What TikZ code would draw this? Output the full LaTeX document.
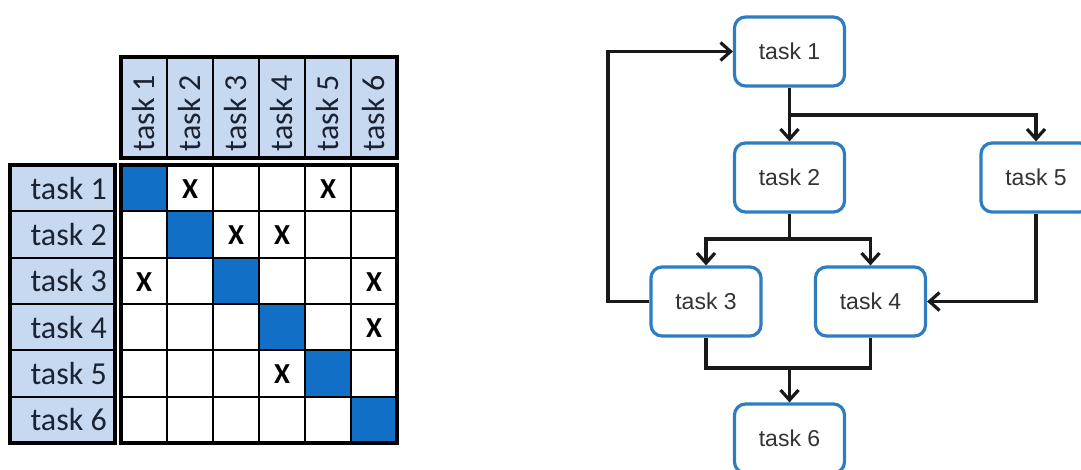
\documentclass[tikz,border=0pt]{standalone}
\usepackage{fontspec}
\setmainfont{Liberation Sans}
\newfontfamily\calfont{Carlito}
\usetikzlibrary{arrows.meta}
\definecolor{hdr}{HTML}{C6D9F1}
\definecolor{diag}{HTML}{1170C6}
\definecolor{boxblue}{HTML}{2F7DC0}
\definecolor{ink}{HTML}{1B2333}
\begin{document}
\begin{tikzpicture}[x=1pt,y=-1pt,
  task/.style={draw=boxblue,line width=3.2pt,rounded corners=11pt,fill=white,
    minimum width=110pt,minimum height=69pt,inner sep=0pt,
    font=\fontsize{23}{25}\selectfont,text=black!80},
  conn/.style={line width=3.2pt,black!90},
  arr/.style={conn,-{Straight Barb[length=10pt,width=18pt]}},
  thinl/.style={line width=2pt,black},
  thickl/.style={line width=3.5pt,black},
  lbl/.style={font=\calfont\fontsize{32}{34}\selectfont,text=ink,inner sep=0pt},
  xm/.style={font=\calfont\bfseries\fontsize{29}{31}\selectfont,text=black,inner sep=0pt}
]
\useasboundingbox (0,0) rectangle (1081,469);
\fill[white] (0,0) rectangle (1081,469);
\clip (0,0) rectangle (1081,469);

% ---------- matrix ----------
\fill[hdr] (121,57) rectangle (397,158);
\fill[hdr] (10,165) rectangle (115,443);
\foreach \i in {1,...,6}
  \fill[diag] ({121+46*(\i-1)},{165+46.333*(\i-1)}) rectangle ({121+46*\i},{165+46.333*\i});
\foreach \i in {1,...,5}{
  \draw[thinl] ({121+46*\i},57) -- ({121+46*\i},158);
  \draw[thinl] ({121+46*\i},165) -- ({121+46*\i},443);
  \draw[thinl] (121,{165+46.333*\i}) -- (397,{165+46.333*\i});
  \draw[thinl] (10,{165+46.333*\i}) -- (115,{165+46.333*\i});
}
\draw[thickl] (121,57) rectangle (397,158);
\draw[thickl] (121,165) rectangle (397,443);
\draw[thickl] (10,165) rectangle (115,443);
\foreach \i in {1,...,6}{
  \node[lbl,rotate=90] (h\i) at ({121+46*(\i-0.5)},113) {task \i};
  \node[lbl,anchor=east] (r\i) at (107,{165+46.333*(\i-0.5)}) {task \i};
}
\foreach \r/\c in {1/2,1/5,2/3,2/4,3/1,3/6,4/6,5/4}
  \node[xm] (x\r\c) at ({121+46*(\c-0.5)},{165+46.333*(\r-0.5)+1}) {X};

% ---------- graph ----------
\node[task] (t1) at (789.5,51.5) {task 1};
\node[task] (t2) at (789.5,177.5) {task 2};
\node[task] (t5) at (1036,177.5) {task 5};
\node[task] (t3) at (706,301.5) {task 3};
\node[task] (t4) at (870.5,301.5) {task 4};
\node[task] (t6) at (789.5,438.5) {task 6};

\coordinate (b1) at (789.5,115);
\coordinate (b2) at (789.5,239);
\coordinate (b3) at (789.5,368);
\coordinate (lft) at (608,301.5);

\draw[conn] (t1.south) -- (b1);
\draw[arr] (b1) -- (t2.north);
\draw[arr] (b1) -| (t5.north);
\draw[conn] (t2.south) -- (b2);
\draw[arr] (b2) -| (t3.north);
\draw[arr] (b2) -| (t4.north);
\draw[arr] (t5.south) |- (t4.east);
\draw[arr] (t3.west) -- (lft) |- (t1.west);
\draw[conn] (t3.south) |- (b3) -| (t4.south);
\draw[arr] (b3) -- (t6.north);
\end{tikzpicture}
\end{document}
